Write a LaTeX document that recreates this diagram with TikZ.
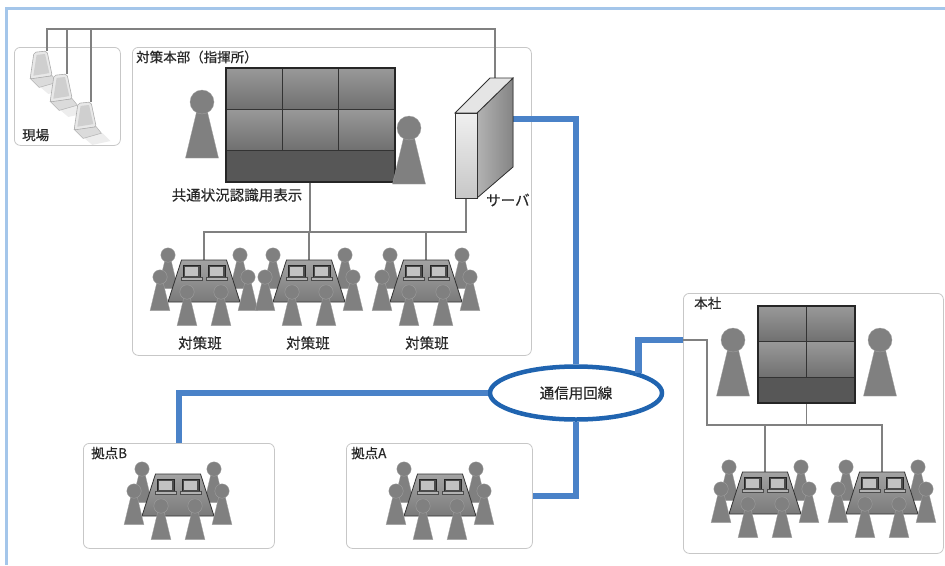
\documentclass[tikz,border=0pt]{standalone}
\usepackage{fontspec}
\setmainfont{Noto Sans CJK JP}[FakeBold=0.5]
\usetikzlibrary{shapes.geometric}

\definecolor{wanblue}{RGB}{74,130,200}
\definecolor{ringblue}{RGB}{32,100,176}
\definecolor{edgeblue}{RGB}{164,198,234}
\definecolor{ink}{RGB}{40,40,40}

\begin{document}
\begin{tikzpicture}[
    x=1pt, y=-1pt,
    every node/.style={font=\fontsize{14.5}{16}\selectfont, text=ink, inner sep=0pt},
    site/.style={draw=black!22, line width=0.8pt, rounded corners=6pt, fill=white, anchor=north west},
    sitelabel/.style={anchor=west, font=\fontsize{13.5}{15}\selectfont},
    wire/.style={draw=black!50, line width=1.3pt},
    wan/.style={draw=wanblue, line width=6.5pt},
    man/.style={fill=black!50, draw=black!36, line width=0.3pt},
    cell/.style={top color=black!40, bottom color=black!56},
    wallbar/.style={fill=black!66},
    wallframe/.style={draw=black!85, line width=2.4pt},
    desk/.style={top color=black!36, bottom color=black!52, draw=black!80, line width=0.8pt},
    person/.pic={
      \path[man] (-4.5,6) -- (4.5,6) -- (16.5,56) -- (-16.5,56) -- cycle;
      \path[man] (0,0) circle[radius=12pt];
    },
    team/.pic={
      % two people behind the desk
      \pic[scale=.6] at (-36,-5) {person};
      \pic[scale=.6] at (36,-5) {person};
      \path[desk] (-22.5,0) -- (22.5,0) -- (36,42) -- (-36,42) -- cycle;
      % laptops
      \foreach \lx in {-12.5,12.5} {
        \filldraw[fill=black!70, draw=black!85, line width=.4pt] (\lx-8.5,5) rectangle (\lx+8.5,17);
        \fill[black!24] (\lx-6.5,6.5) rectangle (\lx+6.5,15.5);
        \filldraw[fill=black!30, draw=black!70, line width=.4pt] (\lx-10.5,17.5) rectangle (\lx+10.5,20.5);
      }
      % people at the sides and in front
      \pic[scale=.6] at (-44,17) {person};
      \pic[scale=.6] at (44,17) {person};
      \pic[scale=.6] at (-17,32) {person};
      \pic[scale=.6] at (17,32) {person};
    },
    tablet/.pic={
      \fill[black!7] (-6,27) -- (9,24) -- (15,30) -- (1,33) -- cycle;
      \filldraw[fill=black!14, draw=black!30, line width=.5pt] (-13,21) -- (4,19) -- (8,24) -- (-6,28) -- cycle;
      \filldraw[fill=black!9, draw=black!32, line width=.6pt, rounded corners=2pt] (-10,1) -- (0,0) -- (4,19) -- (-13,21.5) -- cycle;
      \fill[black!19] (-8,3) -- (-1.5,2.3) -- (1.8,17) -- (-10.5,19) -- cycle;
    }
  ]
  \useasboundingbox (0,0) rectangle (945,565);

  % outer edge
  \draw[edgeblue, line width=3pt] (945,8.5) -- (6.5,8.5) -- (6.5,565);

  % sites
  \node[site, minimum width=106pt, minimum height=98pt] (genba) at (14,47) {};
  \node[site, minimum width=399pt, minimum height=308pt] (hq) at (132,47) {};
  \node[site, minimum width=260pt, minimum height=260pt] (honsha) at (683,293) {};
  \node[site, minimum width=191pt, minimum height=105pt] (kyotenB) at (83,443) {};
  \node[site, minimum width=186pt, minimum height=105pt] (kyotenA) at (346,443) {};

  \node[sitelabel] at (22,135) {現場};
  \node[sitelabel] at (136,57) {対策本部（指揮所）};
  \node[sitelabel] at (694,303) {本社};
  \node[sitelabel] at (91,453) {拠点B};
  \node[sitelabel] at (351,453) {拠点A};

  \coordinate (bus) at (0,29);
  \coordinate (tab1) at (47,51);
  \coordinate (tab2) at (67,74);
  \coordinate (tab3) at (91,102);
  \coordinate (srvtop) at (495,78);
  \coordinate (srvbot) at (466,198);
  \coordinate (srvport) at (513,119);
  \coordinate (wall) at (310,182);
  \coordinate (hub) at (310,232);
  \coordinate (team1) at (204,260);
  \coordinate (team2) at (309,260);
  \coordinate (team3) at (426,260);
  \coordinate (hqport) at (683,340);
  \coordinate (hqwall) at (806.5,403);
  \coordinate (hqbend) at (707,425);
  \coordinate (team4) at (765,472);
  \coordinate (team5) at (882,472);
  \coordinate (teamB) at (178,474);
  \coordinate (teamA) at (440,474);

  % field terminals up to the server
  \draw[wire] (tab1) -- (tab1 |- bus) -| (srvtop);
  \draw[wire] (tab2) -- (tab2 |- bus);
  \draw[wire] (tab3) -- (tab3 |- bus);
  \pic[scale=1.3] at (tab1) {tablet};
  \pic[scale=1.3] at (tab2) {tablet};
  \pic[scale=1.3] at (tab3) {tablet};

  % headquarters LAN
  \draw[wire] (wall) -- (hub);
  \draw[wire] (team1) -- (team1 |- hub) -- (hub -| srvbot) -- (srvbot);
  \draw[wire] (team2) -- (team2 |- hub);
  \draw[wire] (team3) -- (team3 |- hub);

  % head office LAN
  \draw[wire] (hqport) -| (hqbend) -- (hqbend -| team5) -- (team5);
  \draw[wire] (hqwall) -- (hqwall |- hqbend);
  \draw[wire] (team4) -- (team4 |- hqbend);

  % network lines
  \node[ellipse, draw=ringblue, line width=4.5pt, fill=white, minimum width=172pt, minimum height=53pt] (net) at (576,393) {通信用回線};
  \draw[wan] (srvport) -| (net.north);
  \draw[wan] (net.west) -| (kyotenB.north);
  \draw[wan] (net.south) |- (kyotenA.east);
  \draw[wan] (net.18) |- (hqport);

  % common display wall
  \foreach \cx in {226,282,338} {
    \foreach \cy in {68,109} {
      \path[cell] (\cx,\cy) rectangle ++(56.3,41);
    }
  }
  \path[wallbar] (226,150) rectangle (395,182);
  \draw[black!80, line width=1pt] (282,68) -- (282,150) (338,68) -- (338,150) (226,109) -- (395,109) (226,150) -- (395,150);
  \draw[wallframe] (226,68) rectangle (395,182);
  \node at (237,195) {共通状況認識用表示};

  \pic at (202,102) {person};
  \pic at (409,128) {person};

  % server
  \filldraw[left color=black!30, right color=black!48, draw=black!80, line width=.8pt] (477,113) -- (513,78) -- (513,167) -- (477,198) -- cycle;
  \filldraw[fill=black!10, draw=black!80, line width=.8pt] (455,113) -- (490,78) -- (513,78) -- (477,113) -- cycle;
  \filldraw[top color=black!6, bottom color=black!22, draw=black!80, line width=.8pt] (455,113) rectangle (477,198);
  \node[anchor=west] at (486,200) {サーバ};

  % response teams
  \pic at (team1) {team};
  \pic at (team2) {team};
  \pic at (team3) {team};
  \node at (200,343) {対策班};
  \node at (308,343) {対策班};
  \node at (427,343) {対策班};

  % head office display
  \foreach \cx in {758,806.5} {
    \foreach \cy in {306,341.5} {
      \path[cell] (\cx,\cy) rectangle ++(48.5,35.5);
    }
  }
  \path[wallbar] (758,377) rectangle (855,403);
  \draw[black!80, line width=1pt] (806.5,306) -- (806.5,377) (758,341.5) -- (855,341.5) (758,377) -- (855,377);
  \draw[wallframe] (758,306) rectangle (855,403);
  \pic at (733,340) {person};
  \pic at (880,340) {person};
  \pic at (team4) {team};
  \pic at (team5) {team};

  % branch sites
  \pic at (teamB) {team};
  \pic at (teamA) {team};
\end{tikzpicture}
\end{document}
